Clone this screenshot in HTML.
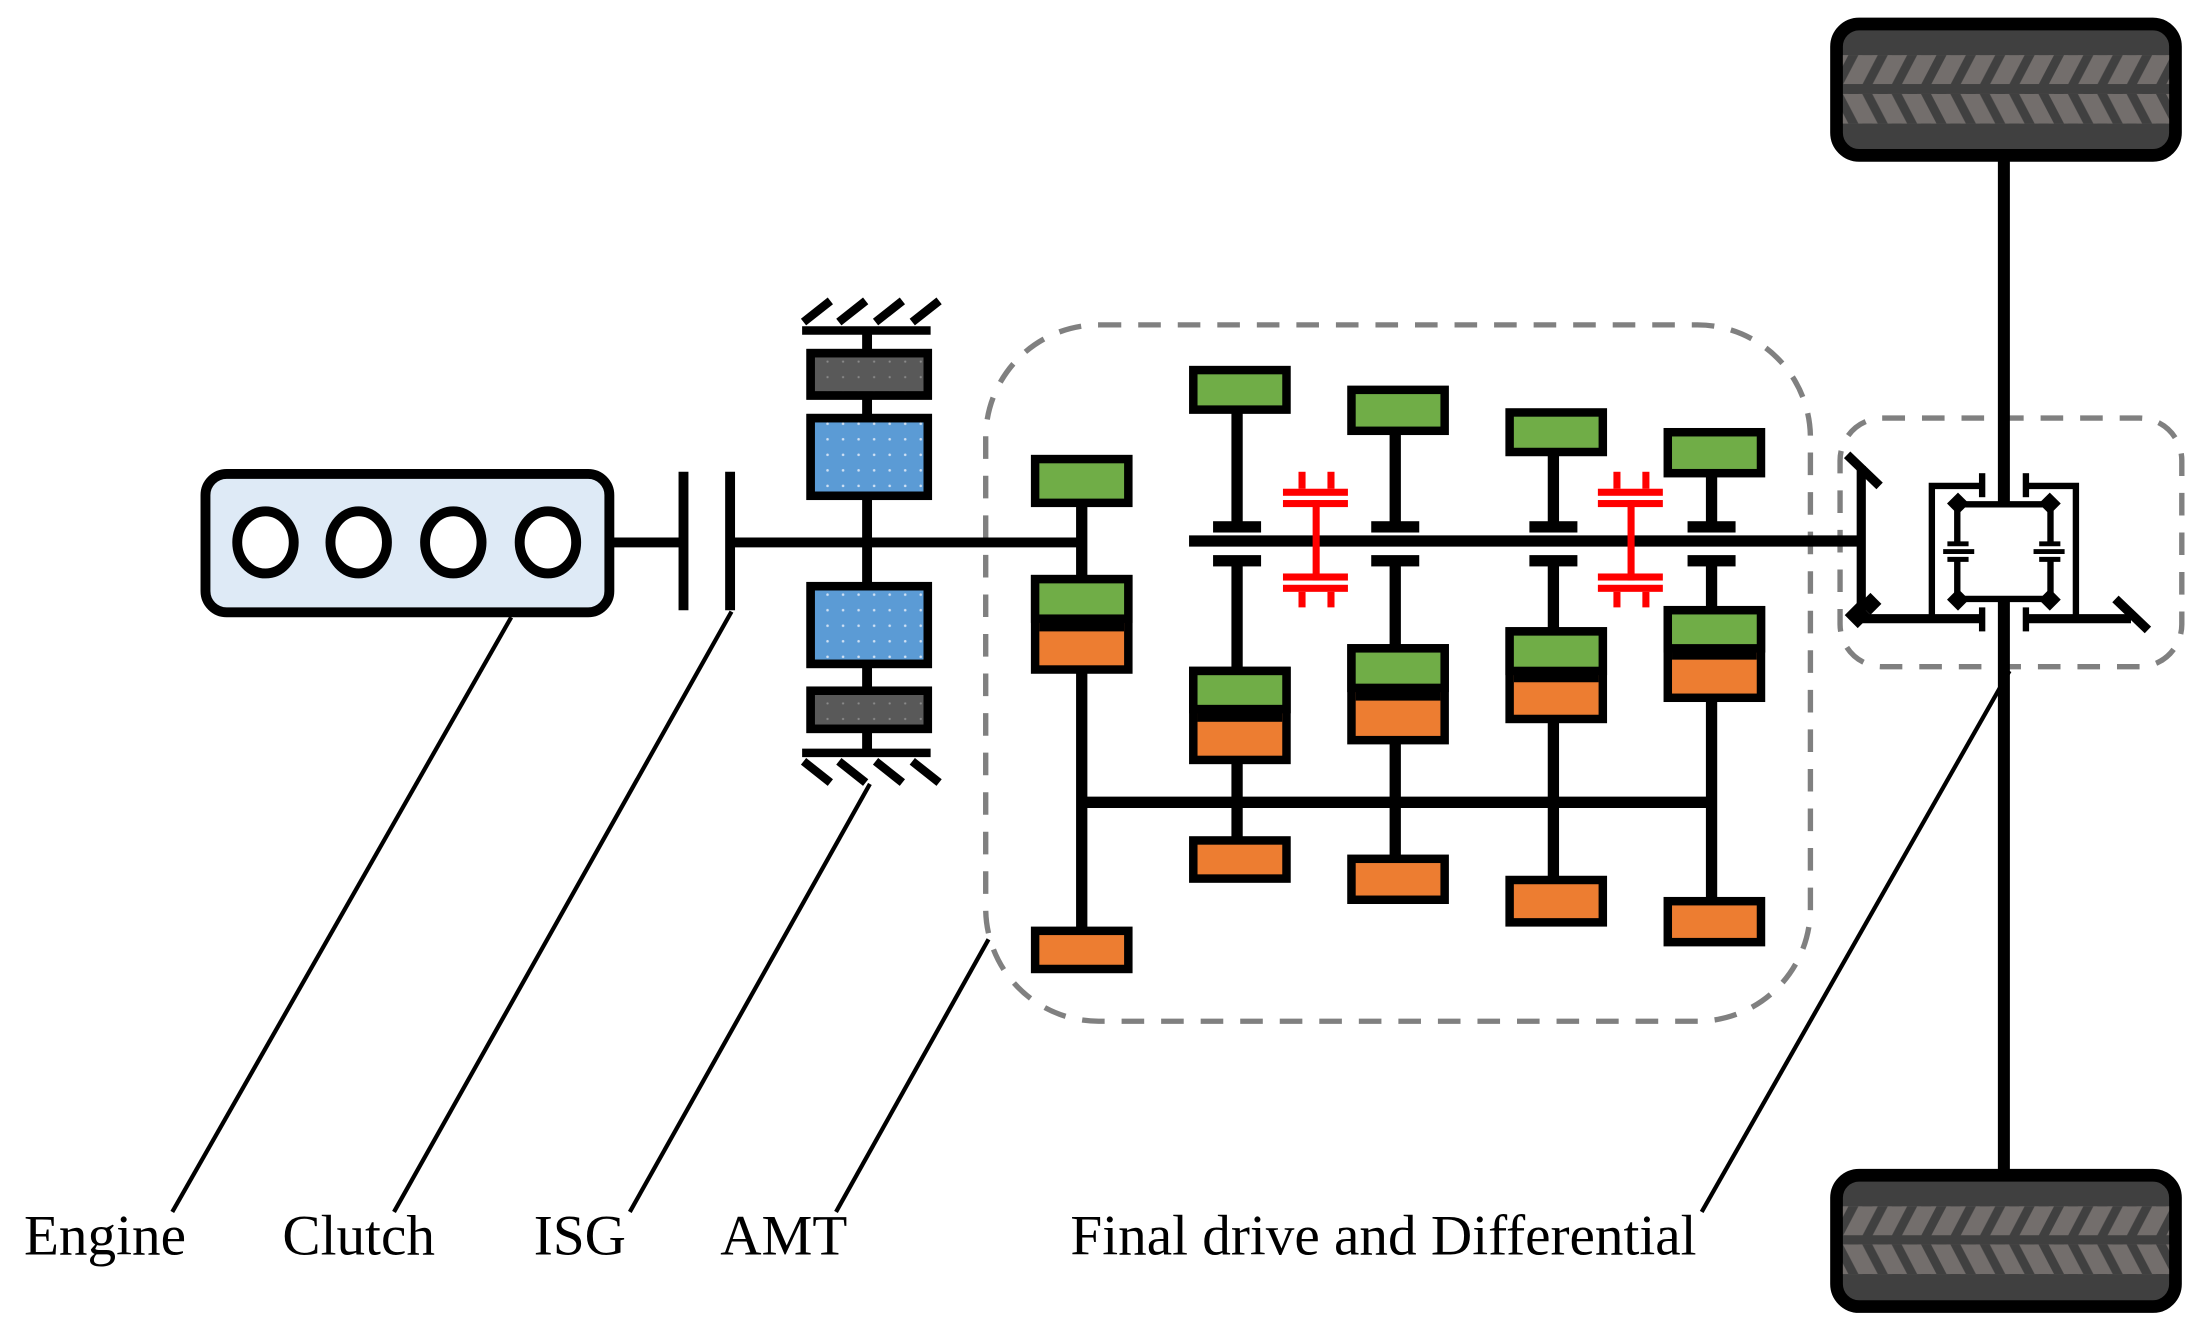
<!DOCTYPE html>
<html><head><meta charset="utf-8"><style>html,body{margin:0;padding:0;background:#fff}svg{display:block}</style></head>
<body>
<svg width="2203" height="1332" viewBox="0 0 1560 943" preserveAspectRatio="none" xmlns="http://www.w3.org/2000/svg">
<defs>
<pattern id="dots" width="11" height="11" patternUnits="userSpaceOnUse"><circle cx="3" cy="3" r="0.9" fill="#cfe0f3"/></pattern>
<pattern id="dots2" width="11" height="11" patternUnits="userSpaceOnUse"><circle cx="3" cy="3" r="0.8" fill="#8a8a8a"/></pattern>
<pattern id="tr1" width="20.8" height="21" patternUnits="userSpaceOnUse" x="1305" y="39"><polygon points="0,21 13.7,21 24.7,0 11,0" fill="#736e6c"/><polygon points="-20.8,21 -7.1,21 3.9,0 -9.8,0" fill="#736e6c"/></pattern>
<pattern id="tr2" width="20.8" height="21" patternUnits="userSpaceOnUse" x="1305" y="66.5"><polygon points="0,0 13.7,0 24.7,21 11,21" fill="#736e6c"/><polygon points="-20.8,0 -7.1,0 3.9,21 -9.8,21" fill="#736e6c"/></pattern>
<pattern id="tr3" width="20.8" height="21" patternUnits="userSpaceOnUse" x="1305" y="854"><polygon points="0,21 13.7,21 24.7,0 11,0" fill="#736e6c"/><polygon points="-20.8,21 -7.1,21 3.9,0 -9.8,0" fill="#736e6c"/></pattern>
<pattern id="tr4" width="20.8" height="21" patternUnits="userSpaceOnUse" x="1305" y="881"><polygon points="0,0 13.7,0 24.7,21 11,21" fill="#736e6c"/><polygon points="-20.8,0 -7.1,0 3.9,21 -9.8,21" fill="#736e6c"/></pattern>
</defs>

<rect x="698" y="230" width="584" height="493" rx="80" fill="none" stroke="#808080" stroke-width="3.8" stroke-dasharray="16 12"/>
<rect x="1303" y="296" width="242" height="176" rx="30" fill="none" stroke="#808080" stroke-width="3.8" stroke-dasharray="16 12"/>

<g stroke="#000" stroke-width="3" fill="none">
<line x1="362" y1="437" x2="122" y2="858"/>
<line x1="518" y1="433" x2="279" y2="858"/>
<line x1="616" y1="555" x2="446" y2="858"/>
<line x1="700" y1="665" x2="592" y2="858"/>
<line x1="1423" y1="475" x2="1205" y2="858"/>
</g>

<rect x="145.5" y="335.5" width="286" height="98" rx="15" fill="#deeaf6" stroke="#000" stroke-width="7"/>
<g fill="#fff" stroke="#000" stroke-width="7">
<ellipse cx="188" cy="384" rx="20" ry="22"/><ellipse cx="254" cy="384" rx="20" ry="22"/>
<ellipse cx="321" cy="384" rx="20" ry="22"/><ellipse cx="388" cy="384" rx="20" ry="22"/>
</g>

<g stroke="#000" stroke-width="7" fill="none">
<line x1="434" y1="384" x2="485" y2="384"/>
<line x1="484" y1="334" x2="484" y2="432"/>
<line x1="517" y1="334" x2="517" y2="432"/>
<line x1="517" y1="384" x2="768" y2="384"/>
<line x1="614" y1="234" x2="614" y2="532"/>
</g>
<line x1="842" y1="383" x2="1318" y2="383" stroke="#000" stroke-width="8"/>

<g stroke="#000" stroke-width="6">
<line x1="568" y1="234" x2="659" y2="234"/>
<line x1="568" y1="533" x2="659" y2="533"/>
<line x1="569" y1="228" x2="588" y2="213"/><line x1="594" y1="228" x2="613" y2="213"/><line x1="620" y1="228" x2="639" y2="213"/><line x1="646" y1="228" x2="665" y2="213"/>
<line x1="569" y1="539" x2="588" y2="554"/><line x1="594" y1="539" x2="613" y2="554"/><line x1="620" y1="539" x2="639" y2="554"/><line x1="646" y1="539" x2="665" y2="554"/>
</g>
<g stroke="#000" stroke-width="6">
<rect x="574" y="250" width="83" height="30" fill="#595959"/><rect x="574" y="250" width="83" height="30" fill="url(#dots2)"/>
<rect x="574" y="296" width="83" height="55" fill="#5b9bd5"/><rect x="574" y="296" width="83" height="55" fill="url(#dots)"/>
<rect x="574" y="415" width="83" height="55" fill="#5b9bd5"/><rect x="574" y="415" width="83" height="55" fill="url(#dots)"/>
<rect x="574" y="489" width="83" height="27" fill="#595959"/><rect x="574" y="489" width="83" height="27" fill="url(#dots2)"/>
</g>

<g stroke="#000" stroke-width="8" fill="none">
<line x1="766" y1="340" x2="766" y2="670"/>
<line x1="766" y1="568" x2="1212" y2="568"/>
<line x1="876" y1="275" x2="876" y2="372"/><line x1="876" y1="396" x2="876" y2="610"/>
<line x1="988" y1="290" x2="988" y2="372"/><line x1="988" y1="396" x2="988" y2="625"/>
<line x1="1100" y1="305" x2="1100" y2="372"/><line x1="1100" y1="396" x2="1100" y2="640"/>
<line x1="1212" y1="320" x2="1212" y2="372"/><line x1="1212" y1="396" x2="1212" y2="655"/>
</g>
<g fill="#000">
<rect x="859" y="369" width="34" height="8"/><rect x="859" y="393" width="34" height="8"/>
<rect x="971" y="369" width="34" height="8"/><rect x="971" y="393" width="34" height="8"/>
<rect x="1083" y="369" width="34" height="8"/><rect x="1083" y="393" width="34" height="8"/>
<rect x="1195" y="369" width="34" height="8"/><rect x="1195" y="393" width="34" height="8"/>
</g>

<g stroke="#000" stroke-width="6">
<rect x="733" y="325" width="66" height="31" fill="#70ad47"/>
<rect x="733" y="410" width="66" height="64" fill="#ed7d31"/><rect x="733" y="410" width="66" height="28" fill="#70ad47"/>
<rect x="733" y="659" width="66" height="27" fill="#ed7d31"/>
<rect x="845" y="262" width="66" height="28" fill="#70ad47"/>
<rect x="845" y="475" width="66" height="63" fill="#ed7d31"/><rect x="845" y="475" width="66" height="27" fill="#70ad47"/>
<rect x="845" y="595" width="66" height="27" fill="#ed7d31"/>
<rect x="957" y="276" width="66" height="29" fill="#70ad47"/>
<rect x="957" y="459" width="66" height="65" fill="#ed7d31"/><rect x="957" y="459" width="66" height="28" fill="#70ad47"/>
<rect x="957" y="608" width="66" height="29" fill="#ed7d31"/>
<rect x="1069" y="292" width="66" height="28" fill="#70ad47"/>
<rect x="1069" y="447" width="66" height="62" fill="#ed7d31"/><rect x="1069" y="447" width="66" height="28" fill="#70ad47"/>
<rect x="1069" y="623" width="66" height="30" fill="#ed7d31"/>
<rect x="1181" y="306" width="66" height="29" fill="#70ad47"/>
<rect x="1181" y="432" width="66" height="62" fill="#ed7d31"/><rect x="1181" y="432" width="66" height="27" fill="#70ad47"/>
<rect x="1181" y="638" width="66" height="29" fill="#ed7d31"/>
</g>
<g fill="#000"><rect x="736" y="438" width="60" height="9"/><rect x="848" y="502" width="60" height="9"/><rect x="960" y="487" width="60" height="9"/><rect x="1072" y="475" width="60" height="8"/><rect x="1184" y="459" width="60" height="8"/></g>

<g id="syn" fill="#ff0000">
<rect x="908.5" y="346" width="46" height="5"/><rect x="908.5" y="354" width="46" height="5"/>
<rect x="919.5" y="334" width="5" height="12"/><rect x="940" y="334" width="5" height="12"/>
<rect x="929.5" y="354" width="5" height="57"/>
<rect x="908.5" y="406" width="46" height="5"/><rect x="908.5" y="414" width="46" height="5"/>
<rect x="919.5" y="419" width="5" height="11"/><rect x="940" y="419" width="5" height="11"/>
</g>
<use href="#syn" transform="translate(223,0)"/>

<g stroke="#000" fill="none">
<line x1="1419" y1="110" x2="1419" y2="357" stroke-width="8.5"/>
<line x1="1419" y1="424" x2="1419" y2="832" stroke-width="8.5"/>
<line x1="1318" y1="330" x2="1318" y2="438" stroke-width="6.5"/>
<line x1="1308" y1="322" x2="1331" y2="344" stroke-width="6.5"/>
<line x1="1318" y1="438" x2="1403" y2="438" stroke-width="6.5"/>
<line x1="1434" y1="438" x2="1509" y2="438" stroke-width="6.5"/>
<line x1="1498" y1="424" x2="1521" y2="446" stroke-width="6.5"/>
<polyline points="1403.6,344 1368,344 1368,436" stroke-width="4.5"/>
<polyline points="1434.6,344 1470,344 1470,436" stroke-width="4.5"/>
<line x1="1403.6" y1="335" x2="1403.6" y2="352" stroke-width="4.5"/>
<line x1="1434.6" y1="335" x2="1434.6" y2="352" stroke-width="4.5"/>
<line x1="1403.6" y1="430" x2="1403.6" y2="447" stroke-width="4.5"/>
<line x1="1434.6" y1="430" x2="1434.6" y2="447" stroke-width="4.5"/>
<line x1="1386" y1="357" x2="1452" y2="357" stroke-width="4.5"/>
<line x1="1386" y1="424" x2="1452" y2="424" stroke-width="4.5"/>
<line x1="1386" y1="357" x2="1386" y2="384" stroke-width="4.5"/><line x1="1386" y1="396" x2="1386" y2="424" stroke-width="4.5"/>
<line x1="1452" y1="357" x2="1452" y2="384" stroke-width="4.5"/><line x1="1452" y1="396" x2="1452" y2="424" stroke-width="4.5"/>
<line x1="1379" y1="385" x2="1394" y2="385" stroke-width="3.5"/><line x1="1376" y1="390.5" x2="1398" y2="390.5" stroke-width="3.5"/><line x1="1379" y1="396" x2="1394" y2="396" stroke-width="3.5"/>
<line x1="1444" y1="385" x2="1459" y2="385" stroke-width="3.5"/><line x1="1440" y1="390.5" x2="1462" y2="390.5" stroke-width="3.5"/><line x1="1444" y1="396" x2="1459" y2="396" stroke-width="3.5"/>
<line x1="1300" y1="382.6" x2="1318" y2="382.6" stroke-width="6"/>
</g>
<g fill="#000">
<rect x="1309" y="429" width="13" height="13" transform="rotate(45 1315.5 435.5)"/>
<rect x="1319" y="422" width="11" height="11" transform="rotate(45 1324.5 427.5)"/>
<rect x="1381" y="351" width="11" height="11" transform="rotate(45 1386.5 356.5)"/>
<rect x="1446" y="351" width="11" height="11" transform="rotate(45 1451.5 356.5)"/>
<rect x="1381" y="419" width="11" height="11" transform="rotate(45 1386.5 424.5)"/>
<rect x="1446" y="419" width="11" height="11" transform="rotate(45 1451.5 424.5)"/>
</g>

<rect x="1300.5" y="17" width="240" height="93" rx="16" fill="#404040" stroke="#000" stroke-width="9"/>
<rect x="1305" y="39" width="231" height="20.5" fill="url(#tr1)"/>
<rect x="1305" y="66.5" width="231" height="21" fill="url(#tr2)"/>
<rect x="1300.5" y="832" width="240" height="93" rx="16" fill="#404040" stroke="#000" stroke-width="9"/>
<rect x="1305" y="854" width="231" height="20.5" fill="url(#tr3)"/>
<rect x="1305" y="881" width="231" height="21" fill="url(#tr4)"/>

<g font-family="Liberation Serif, serif" font-size="40.5" fill="#000">
<text x="17" y="888">Engine</text>
<text x="200" y="888">Clutch</text>
<text x="378" y="888">ISG</text>
<text x="510" y="888">AMT</text>
<text x="758" y="888">Final drive and Differential</text>
</g>
</svg>
</body></html>
